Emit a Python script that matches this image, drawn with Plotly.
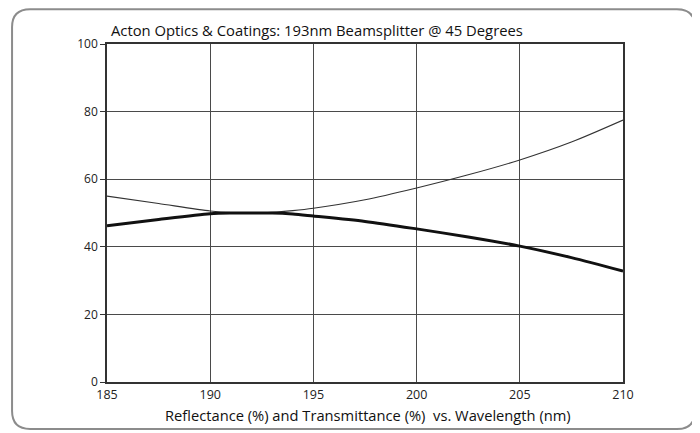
import plotly.graph_objects as go

wavelength = [185, 187.5, 190, 191, 192, 193, 194, 195, 197.5, 200, 202.5, 205, 207.5, 210]
transmittance = [55.0, 52.8, 50.6, 50.1, 50.0, 50.2, 50.7, 51.4, 53.9, 57.4, 61.3, 65.7, 71.0, 77.5]
reflectance = [46.2, 48.1, 49.8, 50.0, 50.0, 50.0, 49.7, 49.1, 47.5, 45.3, 42.9, 40.2, 36.8, 32.8]

x_ticks = [185, 190, 195, 200, 205, 210]
y_ticks = [0, 20, 40, 60, 80, 100]

title_text = "Acton Optics & Coatings: 193nm Beamsplitter @ 45 Degrees"
x_title = "Reflectance (%) and Transmittance (%)  vs. Wavelength (nm)"

FONT = "Open Sans, sans-serif"

fig = go.Figure()
fig.add_trace(go.Scatter(x=wavelength, y=transmittance, mode="lines",
                         line=dict(color="#333333", width=1.1, shape="spline", smoothing=0.8),
                         name="Transmittance", showlegend=False))
fig.add_trace(go.Scatter(x=wavelength, y=reflectance, mode="lines",
                         line=dict(color="#111111", width=3, shape="spline", smoothing=0.8),
                         name="Reflectance", showlegend=False))

# rounded frame around whole chart (paper coords)
x0, x1, y0, y1 = -0.184, 1.1395, -0.139, 1.103
rx, ry = 0.035, 0.053
path = (f"M {x0+rx},{y0} L {x1-rx},{y0} Q {x1},{y0} {x1},{y0+ry} "
        f"L {x1},{y1-ry} Q {x1},{y1} {x1-rx},{y1} L {x0+rx},{y1} "
        f"Q {x0},{y1} {x0},{y1-ry} L {x0},{y0+ry} Q {x0},{y0} {x0+rx},{y0} Z")
fig.add_shape(type="path", path=path, xref="paper", yref="paper",
              line=dict(color="#8c8c8c", width=2), layer="below")

# page body has an 8px margin, so the figure is sized/offset to compensate
fig.update_layout(
    width=692, height=425,
    margin=dict(l=99, r=77, t=36, b=51),
    paper_bgcolor="white", plot_bgcolor="white",
    font=dict(family=FONT, color="#222222"),
    annotations=[
        dict(text=title_text, xref="paper", yref="paper", x=0.003, y=1.005,
             xanchor="left", yanchor="bottom", showarrow=False,
             font=dict(size=14.8, family=FONT, color="#111111")),
        dict(text=x_title, xref="paper", yref="paper", x=0.505, y=-0.062,
             xanchor="center", yanchor="top", showarrow=False,
             font=dict(size=14.7, family=FONT, color="#111111")),
    ],
)
fig.update_xaxes(range=[185, 210], tickvals=x_ticks, ticktext=[str(t) for t in x_ticks],
                 showgrid=True, gridcolor="#4a4a4a", gridwidth=1,
                 showline=True, linecolor="#333333", linewidth=1.5, mirror=True,
                 ticks="", ticklabelstandoff=0, tickfont=dict(size=12.5, color="#222222"),
                 zeroline=False)
fig.update_yaxes(range=[0, 100], tickvals=y_ticks, ticktext=[str(t) for t in y_ticks],
                 showgrid=True, gridcolor="#4a4a4a", gridwidth=1,
                 showline=True, linecolor="#333333", linewidth=1.5, mirror=True,
                 ticks="outside", ticklen=5, tickcolor="#333333",
                 tickfont=dict(size=12, color="#222222"), zeroline=False)

fig.write_html("out.html")
